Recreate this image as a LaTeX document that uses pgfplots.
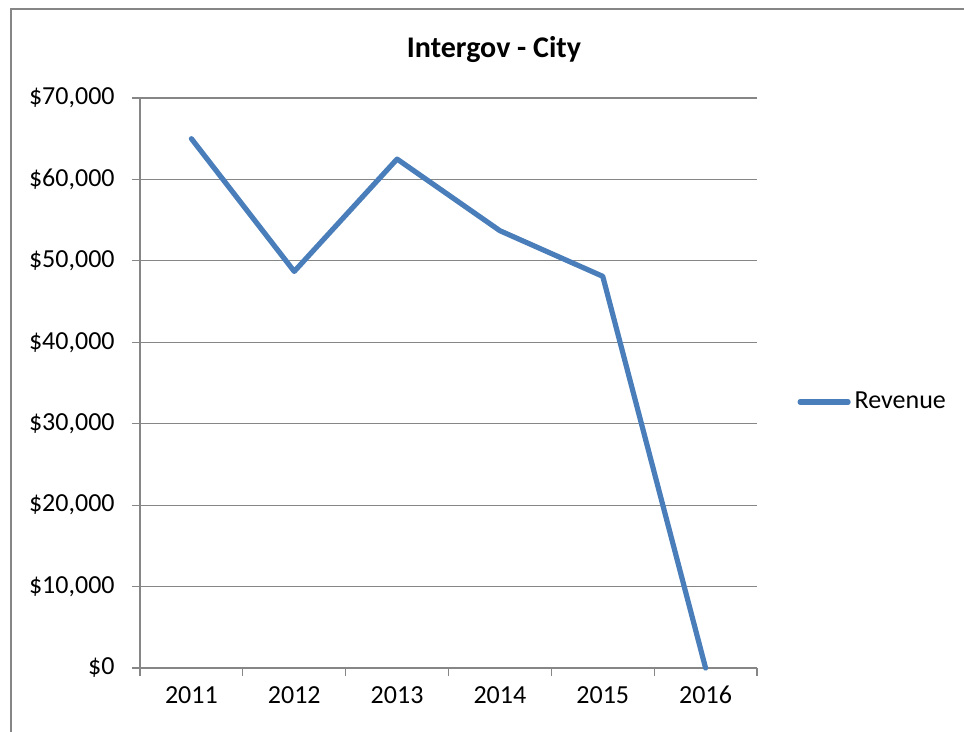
\documentclass[border=0pt]{standalone}
\usepackage{fontspec}
\setmainfont{Carlito}
\usepackage{pgfplots}
\pgfplotsset{compat=1.18}
\definecolor{revline}{RGB}{74,126,187}
\definecolor{axgray}{RGB}{134,134,134}

\begin{document}
\fontsize{13}{15.6}\selectfont
\begin{tikzpicture}
\useasboundingbox (0,0) rectangle (482pt,366pt);
% chart area frame (left and top edges only, rest is cut off)
\draw[axgray, line width=0.6pt] (5.5pt,0) -- (5.5pt,361.5pt) -- (482pt,361.5pt);
\node[font=\fontsize{15}{18}\selectfont\bfseries] at (247pt,341pt) {Intergov - City};
\begin{axis}[
    at={(70pt,32pt)},
    anchor=south west,
    scale only axis,
    width=308.5pt,
    height=285pt,
    xmin=-0.5, xmax=5.5,
    ymin=0, ymax=70000,
    scaled ticks=false,
    axis x line*=bottom,
    axis y line*=left,
    axis line style={axgray, line width=0.6pt},
    xtick={-0.5,0.5,1.5,2.5,3.5,4.5,5.5},
    xticklabels={},
    extra x ticks={0,1,2,3,4,5},
    extra x tick labels={2011,2012,2013,2014,2015,2016},
    extra x tick style={major tick length=0pt, grid=none},
    ytick={0,10000,20000,30000,40000,50000,60000,70000},
    yticklabels={\$0,{\$10,000},{\$20,000},{\$30,000},{\$40,000},{\$50,000},{\$60,000},{\$70,000}},
    tick align=outside,
    major tick length=4pt,
    tick style={axgray, line width=0.6pt},
    ymajorgrids,
    major grid style={axgray, line width=0.6pt},
    yticklabel style={anchor=east, inner sep=0pt, xshift=-8.5pt},
    xticklabel style={anchor=north, inner sep=0pt, yshift=-9pt},
    legend style={at={(1.065,0.4667)}, anchor=west, draw=none, fill=none,
        inner sep=0pt, font=\fontsize{13}{15.6}\selectfont},
    legend cell align=left,
    legend image code/.code={\draw[#1, line cap=round] (1pt,0pt) -- (25pt,0pt);},
    clip=false,
]
\addplot[revline, line width=2.6pt, line join=round, line cap=round]
    coordinates {(0,65000) (1,48700) (2,62500) (3,53700) (4,48100) (5,0)};
\addlegendentry{Revenue}
\end{axis}
\end{tikzpicture}
\end{document}
